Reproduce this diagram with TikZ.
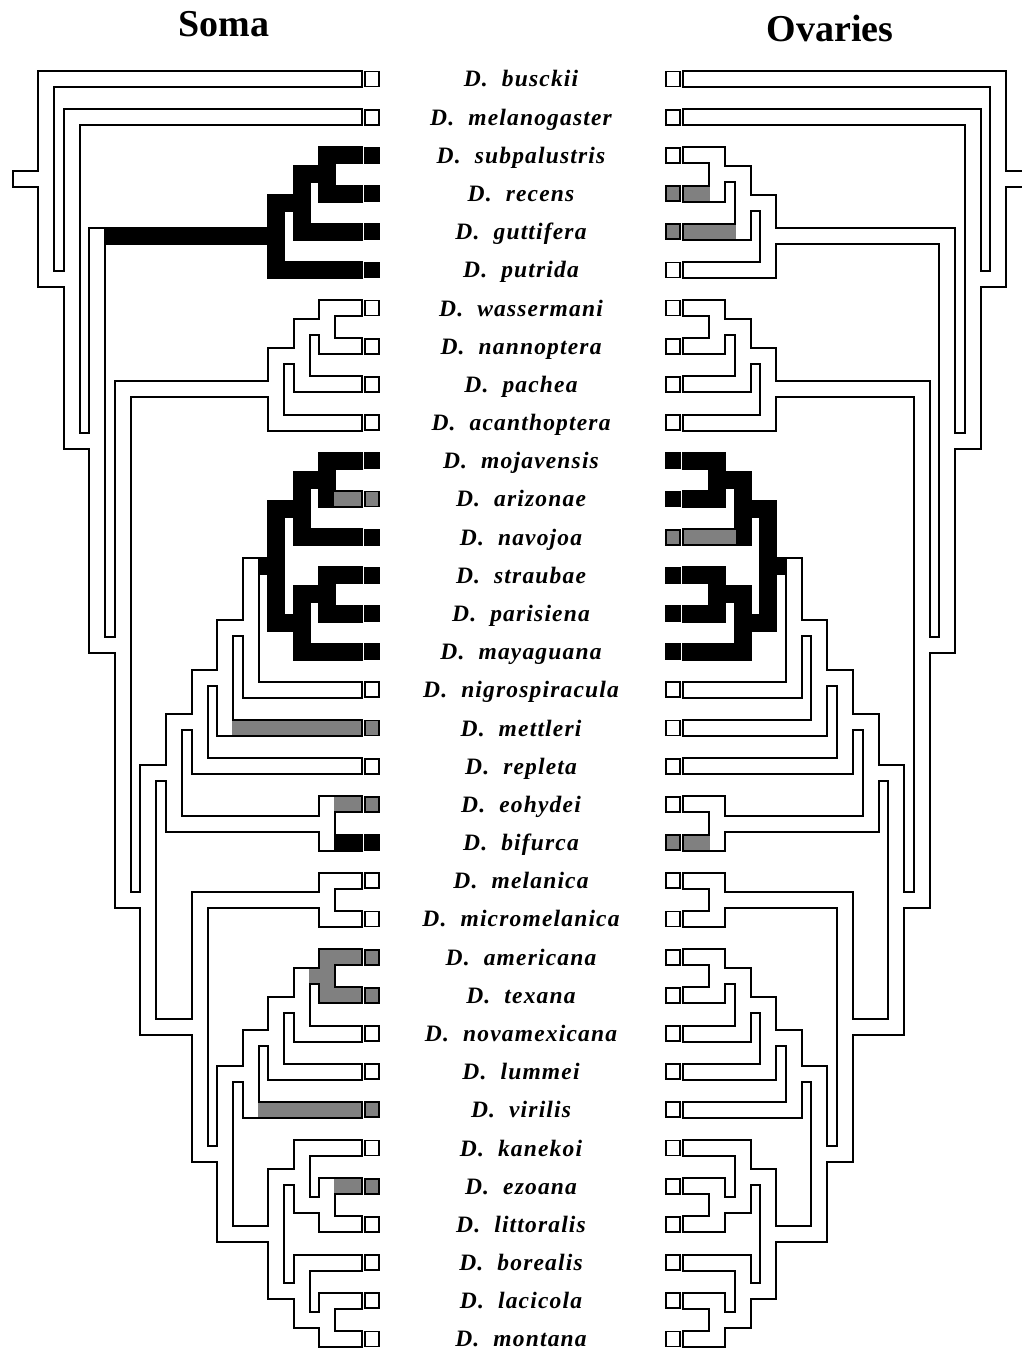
\documentclass[tikz,border=0pt]{standalone}
\usepackage{fontspec}
\setmainfont{Liberation Serif}
\newfontfamily\taxfont[LetterSpace=5]{Liberation Serif}
\usetikzlibrary{calc}

\colorlet{stipple}{black!50}
\tikzset{
    declare function={nx(\h)=320.3-25.55*(\h-1);},
    edge/.style={draw=black, line width=4pt},
    tipbox/.style={draw=black, line width=1.8pt},
    taxon/.style={anchor=base, font={\taxfont\bfseries\itshape\fontsize{23.5}{25}\selectfont}},
    title/.style={anchor=base, font={\bfseries\fontsize{38}{42}\selectfont}}
}

% side switches: soma tree on the left, ovary tree mirrored on the right
\newcommand\soma{\def\pf{s}\def\sg{1}\def\sgm{-1}\def\xo{0}}
\newcommand\ovar{\def\pf{o}\def\sg{-1}\def\sgm{1}\def\xo{1044.5}}

% branch colours (white unless painted)
\newcommand\paint[2]{\expandafter\def\csname tint@#1\endcsname{#2}}
\newcommand\tint[1]{\ifcsname tint@\pf#1\endcsname\csname tint@\pf#1\endcsname\else white\fi}

\newcount\mode
% one slab of a fat branch: outline in mode 1, fill otherwise
\newcommand\slab[3]{%
    \ifnum\mode=1 \draw[edge] #2 rectangle #3;
    \else \fill[#1] #2 rectangle #3; \fi}

% clade: node, height, upper child, lower child
\newcommand\cl[4]{%
    \ifcase\mode
        \coordinate (hx) at ({\xo+(\sg)*nx(#2)},0);
        \coordinate (\pf#1) at ($(\pf#3)!.5!(\pf#4)$);
        \coordinate (\pf#1) at (\pf#1 -| hx);
    \or
        \slab{}{($(\pf#1 |- \pf#3)+(0,-7)$)}{($(\pf#1 |- \pf#4)+(\sg*14,7)$)}
        \slab{}{($(\pf#1 |- \pf#3)+(0,-7)$)}{($(\pf#3)+(\sg*14,7)$)}
        \slab{}{($(\pf#1 |- \pf#4)+(0,-7)$)}{($(\pf#4)+(\sg*14,7)$)}
    \or
        \edef\fc{\tint{#3}}\slab{\fc}{($(\pf#1 |- \pf#3)+(0,-7)$)}{($(\pf#3)+(\sg*14,7)$)}
        \edef\fc{\tint{#4}}\slab{\fc}{($(\pf#1 |- \pf#4)+(0,-7)$)}{($(\pf#4)+(\sg*14,7)$)}
    \or
        \edef\fc{\tint{#1}}\slab{\fc}{($(\pf#1 |- \pf#3)+(0,-7)$)}{($(\pf#1 |- \pf#4)+(\sg*14,7)$)}
    \fi}

% root stub
\newcommand\stub[1]{%
    \ifnum\mode>0 \ifnum\mode<3
        \edef\fc{\tint{#1}}\slab{\fc}{($(\pf#1)+(\sgm*25,-7)$)}{($(\pf#1)+(\sg*14,7)$)}
    \fi\fi}

\def\taxa{bus,mel,sub,rec,gut,put,was,nan,pac,aca,moj,ari,nav,str,par,may,nig,met,rep,eoh,bif,mln,mic,ame,tex,nov,lum,vir,kan,ezo,lit,bor,lac,mon}

\newcommand\tips{%
    \foreach \nm [count=\i from 0] in \taxa
        \coordinate (\pf\nm) at ({\xo+(\sg)*346.7},{79+38.18*\i});}

\newcommand\boxes{%
    \foreach \nm in \taxa {
        \edef\fc{\tint{\nm}}
        \draw[tipbox, fill=\fc] ($(\pf\nm)+(\sg*18,-7.5)$) rectangle ($(\pf\nm)+(\sg*32,7.5)$);
    }}

\newcommand\phylo{%
    \cl{sr}{1}{sub}{rec} \cl{srg}{2}{sr}{gut} \cl{cs}{3}{srg}{put}
    \cl{wn}{1}{was}{nan} \cl{wnp}{2}{wn}{pac} \cl{cn}{3}{wnp}{aca}
    \cl{ma}{1}{moj}{ari} \cl{man}{2}{ma}{nav} \cl{sp}{1}{str}{par} \cl{spm}{2}{sp}{may}
    \cl{bk}{3}{man}{spm} \cl{t3}{4}{bk}{nig} \cl{t2}{5}{t3}{met} \cl{t1}{6}{t2}{rep}
    \cl{eb}{1}{eoh}{bif} \cl{rp}{7}{t1}{eb}
    \cl{mm}{1}{mln}{mic}
    \cl{amt}{1}{ame}{tex} \cl{atn}{2}{amt}{nov} \cl{atl}{3}{atn}{lum} \cl{vg}{4}{atl}{vir}
    \cl{el}{1}{ezo}{lit} \cl{kel}{2}{kan}{el} \cl{lm}{1}{lac}{mon} \cl{blm}{2}{bor}{lm}
    \cl{mg}{3}{kel}{blm} \cl{vv}{5}{vg}{mg} \cl{n5}{6}{mm}{vv} \cl{n4}{8}{rp}{n5}
    \cl{n3}{9}{cn}{n4} \cl{n2}{10}{cs}{n3} \cl{n1}{11}{mel}{n2} \cl{rt}{12}{bus}{n1}
    \stub{rt}}

\newcommand\drawtree{\mode=0 \tips\phylo \mode=1 \phylo \mode=2 \phylo \mode=3 \phylo \boxes}

% Soma
\paint{scs}{black}\paint{ssrg}{black}\paint{ssr}{black}
\paint{ssub}{black}\paint{srec}{black}\paint{sgut}{black}\paint{sput}{black}
\paint{sbk}{black}\paint{sman}{black}\paint{sma}{black}\paint{sspm}{black}\paint{ssp}{black}
\paint{smoj}{black}\paint{sari}{stipple}\paint{snav}{black}
\paint{sstr}{black}\paint{spar}{black}\paint{smay}{black}
\paint{smet}{stipple}\paint{seoh}{stipple}\paint{sbif}{black}
\paint{samt}{stipple}\paint{same}{stipple}\paint{stex}{stipple}
\paint{svir}{stipple}\paint{sezo}{stipple}
% Ovaries
\paint{orec}{stipple}\paint{ogut}{stipple}
\paint{obk}{black}\paint{oman}{black}\paint{oma}{black}\paint{ospm}{black}\paint{osp}{black}
\paint{omoj}{black}\paint{oari}{black}\paint{onav}{stipple}
\paint{ostr}{black}\paint{opar}{black}\paint{omay}{black}
\paint{obif}{stipple}

\begin{document}
\begin{tikzpicture}[x=1pt, y=-1pt]
\useasboundingbox (0,0) rectangle (1021,1351);

% titles
\node[title] (soma) at (224,37) {Soma};
\node[title] (ovaries) at (830,42) {Ovaries};

% the two trees
\soma\drawtree
\ovar\drawtree

% species names
\foreach \ep [count=\i from 0] in {busckii,melanogaster,subpalustris,recens,guttifera,putrida,wassermani,nannoptera,pachea,acanthoptera,mojavensis,arizonae,navojoa,straubae,parisiena,mayaguana,nigrospiracula,mettleri,repleta,eohydei,bifurca,melanica,micromelanica,americana,texana,novamexicana,lummei,virilis,kanekoi,ezoana,littoralis,borealis,lacicola,montana}
    \node[taxon] (sp-\ep) at (521,{87+38.18*\i}) {D.\hspace{0.6em}\ep};

\end{tikzpicture}
\end{document}
